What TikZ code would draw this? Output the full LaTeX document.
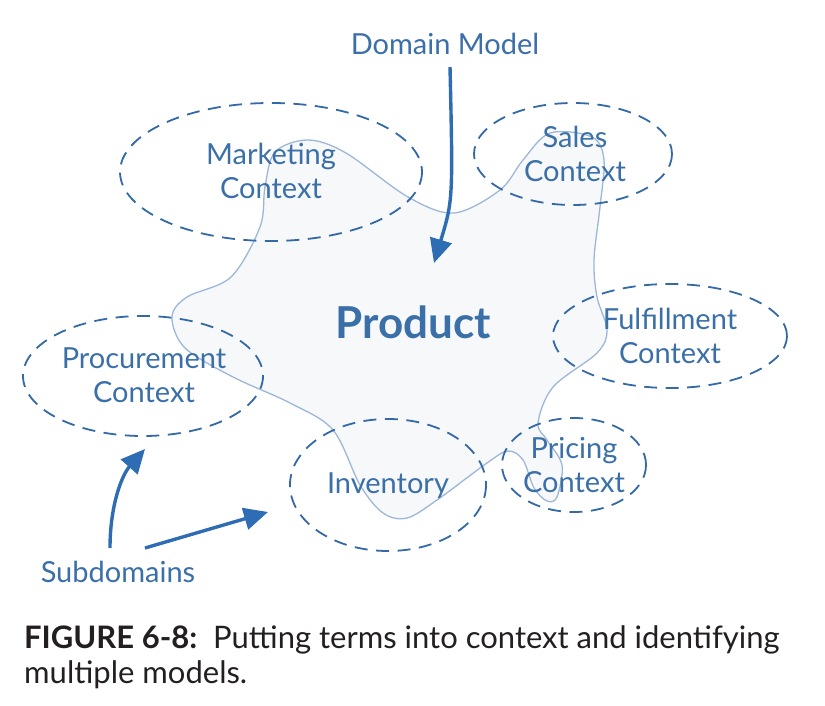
\documentclass[tikz,border=0pt]{standalone}
\usepackage{fontspec}
\setmainfont{Lato}
\usetikzlibrary{arrows.meta}
\definecolor{txtblue}{HTML}{3A6FA8}
\definecolor{dashblue}{HTML}{3269A6}
\definecolor{arrblue}{HTML}{2E6DB4}
\definecolor{blobline}{HTML}{9DB7D8}
\definecolor{blobfill}{HTML}{F6F8FA}
\definecolor{captxt}{HTML}{231F20}
\tikzset{
  ctx/.style={draw=dashblue, line width=1.8pt, dash pattern=on 13pt off 8.5pt},
  lbl/.style={text=txtblue, font=\fontsize{29}{34}\selectfont, align=center, inner sep=0pt},
  bigarrow/.style={draw=arrblue, line width=3.4pt, -{Triangle[length=24pt,width=22pt]}},
  captext/.style={text=captxt, font=\fontsize{31}{36}\selectfont, anchor=base west, inner sep=0pt},
}
\begin{document}
\begin{tikzpicture}[x=1pt,y=-1pt]
\useasboundingbox (0,0) rectangle (825,706);
% blob
\draw[blobline, line width=1.3pt, fill=blobfill] plot[smooth cycle, tension=0.55] coordinates {
(308,140) (346,153) (408,197) (454,213) (500,190) (523,160) (550,133) (592,137) (604,160)
(600,207) (594,260) (597,297) (607,330) (597,353) (553,387) (538,423) (547,440) (562,465)
(557,497) (547,501) (534,488) (523,460) (508,451) (487,463) (437,500) (407,518) (383,513)
(360,485) (333,430) (290,403) (233,377) (185,348) (172,317) (187,297) (231,277) (260,227)
(265,187) (275,152)};
% context ellipses
\draw[ctx] (271,172) ellipse [x radius=151, y radius=69];
\draw[ctx] (573,154) ellipse [x radius=99, y radius=51];
\draw[ctx] (670,336) ellipse [x radius=117, y radius=52];
\draw[ctx] (143,376) ellipse [x radius=120, y radius=60];
\draw[ctx] (388,485) ellipse [x radius=98, y radius=66];
\draw[ctx] (574,465) ellipse [x radius=72, y radius=47];
% labels
\node[lbl] (mkt) at (271,171) {Marketing\\Context};
\node[lbl] (sales) at (575,154) {Sales\\Context};
\node[lbl] (ful) at (670,336) {Fulfillment\\Context};
\node[lbl] (proc) at (144,375) {Procurement\\Context};
\node[lbl] (inv) at (388,486) {Inventory};
\node[lbl] (pri) at (574,465) {Pricing\\Context};
\node[text=txtblue, font=\fontsize{44}{50}\selectfont\bfseries, inner sep=0pt] (prod) at (413,322) {Product};
\node[lbl] (dm) at (445,44) {Domain Model};
\node[lbl] (sub) at (118,572) {Subdomains};
% arrows
\coordinate (dmtip) at (434,263);
\coordinate (dmstart) at (450,67);
\draw[bigarrow] (dmstart) .. controls (453,200) .. (dmtip);
\coordinate (s1start) at (110,548);
\coordinate (s1tip) at (145,449);
\draw[bigarrow] (s1start) .. controls (110,505) and (122,475) .. (s1tip);
\coordinate (s2start) at (145,548);
\coordinate (s2tip) at (268,512);
\draw[bigarrow] (s2start) -- (s2tip);
% caption
\node[captext] (cap1) at (24,648) {\textbf{FIGURE 6-8:}\ \ Putting terms into context and identifying};
\node[captext] (cap2) at (24,683) {multiple models.};
\end{tikzpicture}
\end{document}
